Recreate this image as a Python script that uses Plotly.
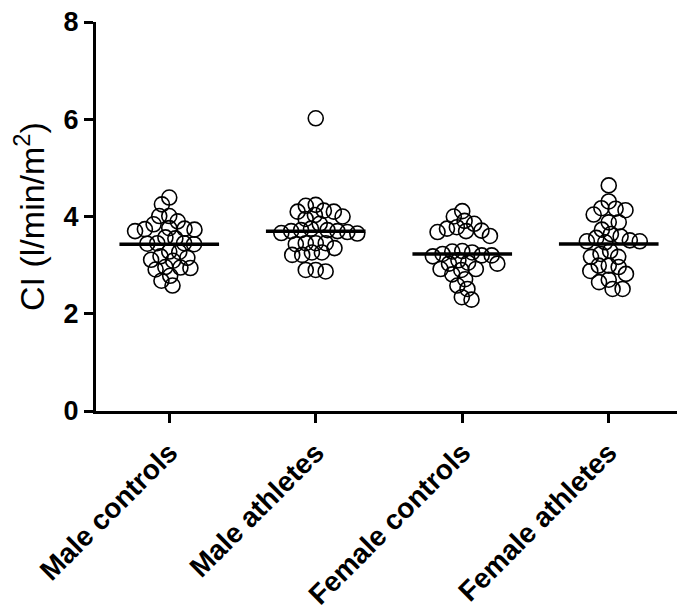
import numpy as np
import plotly.graph_objects as go

categories = ["Male controls", "Male athletes", "Female controls", "Female athletes"]

male_controls = [4.39, 4.25, 4.01, 4.01, 3.90, 3.84, 3.74, 3.76, 3.73, 3.75, 3.70,
                 3.57, 3.55, 3.45, 3.44, 3.45, 3.43, 3.28, 3.18, 3.15, 3.27,
                 3.11, 3.09, 2.95, 2.96, 2.94, 2.91, 2.78, 2.68, 2.58]
male_athletes = [6.02, 4.24, 4.22, 4.10, 4.10, 4.12, 4.03, 4.00, 3.95, 3.85,
                 3.75, 3.72, 3.70, 3.70, 3.68, 3.66, 3.72, 3.65,
                 3.45, 3.45, 3.43, 3.45, 3.26, 3.35, 3.26, 3.21, 3.21,
                 2.90, 2.87, 2.90]
female_controls = [4.11, 4.00, 3.91, 3.85, 3.78, 3.75, 3.71, 3.70, 3.68, 3.60,
                   3.29, 3.28, 3.26, 3.20, 3.23, 3.20, 3.18, 3.10,
                   3.05, 3.03, 3.03, 2.92, 2.92, 2.90, 2.81, 2.71, 2.58, 2.51, 2.29, 2.34]
female_athletes = [4.64, 4.31, 4.17, 4.13, 4.16, 4.04, 3.88, 3.88, 3.73, 3.56,
                   3.59, 3.64, 3.51, 3.49, 3.49, 3.47, 3.29, 3.23, 3.17, 3.17,
                   2.99, 2.99, 2.82, 2.96, 2.88, 2.65, 2.70, 2.51, 2.51]

groups = [male_controls, male_athletes, female_controls, female_athletes]
y_ticks = [0, 2, 4, 6, 8]

# pixel scale of the plot area (used only to compute a non-overlapping swarm layout)
PX_PER_CAT = 146.5
PX_PER_UNIT = 48.6


def swarm_offsets(vals, mind=10.0):
    ys = np.asarray(vals, dtype=float) * PX_PER_UNIT
    order = np.argsort(-ys, kind="stable")
    xs = np.zeros(len(ys))
    placed = []
    for i in order:
        y = ys[i]
        cands = [0.0]
        for xj, yj in placed:
            dy = abs(y - yj)
            if dy < mind:
                dx = np.sqrt(mind ** 2 - dy ** 2)
                cands += [xj + dx, xj - dx]
        cands.sort(key=lambda c: (abs(c), c))
        for c in cands:
            if all((c - xj) ** 2 + (y - yj) ** 2 >= mind ** 2 - 1e-6 for xj, yj in placed):
                xs[i] = c
                break
        placed.append((xs[i], y))
    return xs / PX_PER_CAT


fig = go.Figure()
for gi, vals in enumerate(groups):
    offs = swarm_offsets(vals)
    fig.add_trace(go.Scatter(
        x=gi + offs, y=vals, mode="markers",
        marker=dict(symbol="circle-open", size=15, color="black",
                    line=dict(width=1.6, color="black")),
        showlegend=False, hoverinfo="y"))

for gi, vals in enumerate(groups):
    m = float(np.mean(vals))
    fig.add_trace(go.Scatter(
        x=[gi - 0.34, gi + 0.34], y=[m, m], mode="lines",
        line=dict(color="black", width=3.5), showlegend=False, hoverinfo="skip"))

# the page body has an 8px margin, so the figure is sized to fit inside the window
fig.update_layout(
    width=677, height=606,
    margin=dict(l=88, r=3, t=14, b=203),
    plot_bgcolor="white", paper_bgcolor="white",
    font=dict(family="Liberation Sans, Arial, sans-serif", color="black"),
    xaxis=dict(range=[-0.5, 3.5], tickvals=list(range(len(categories))),
               ticktext=categories, tickangle=-45, automargin=False,
               tickfont=dict(size=28, weight="bold"), ticklabeloverflow="allow",
               showline=True, linewidth=3, linecolor="black",
               ticks="outside", ticklen=9, tickwidth=3, tickcolor="black",
               showgrid=False, zeroline=False, ticklabelstandoff=2),
    yaxis=dict(range=[0, 8], tickvals=y_ticks, automargin=False,
               tickfont=dict(size=27, weight="bold"), ticklabeloverflow="allow",
               showline=True, linewidth=3, linecolor="black",
               ticks="outside", ticklen=9, tickwidth=3, tickcolor="black",
               showgrid=False, zeroline=False,
               title=dict(text="CI (l/min/m<sup>2</sup>)", font=dict(size=34), standoff=12)),
)

fig.write_html("out.html")
